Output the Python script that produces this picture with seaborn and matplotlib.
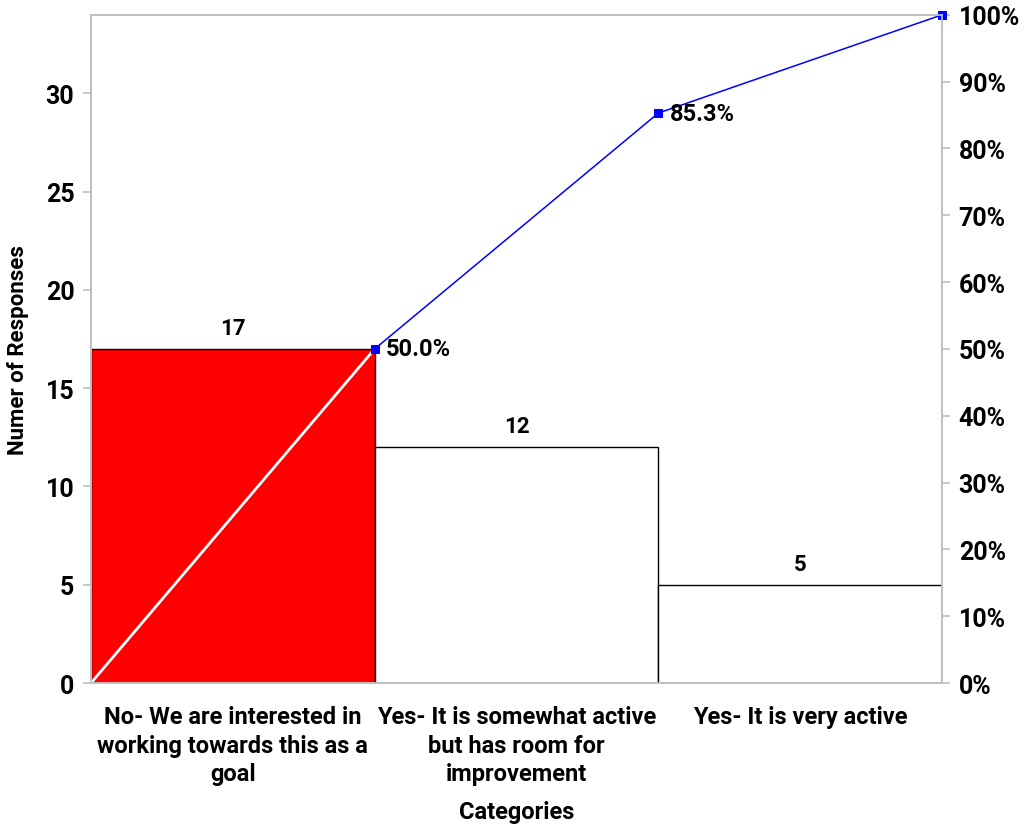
import numpy as np
import pandas as pd
import matplotlib
matplotlib.use("Agg")
import matplotlib.pyplot as plt
import seaborn as sns
from matplotlib.ticker import PercentFormatter

categories = ["No- We are interested in\nworking towards this as a\ngoal",
              "Yes- It is somewhat active\nbut has room for\nimprovement",
              "Yes- It is very active"]
counts = [17, 12, 5]
cum_pct = [50.0, 85.3, 100.0]
pct_labels = ["50.0%", "85.3%", ""]

sns.set_style("white")
plt.rcParams['font.family'] = ['Roboto', 'DejaVu Sans']
plt.rcParams['font.weight'] = 'bold'
plt.rcParams['text.color'] = 'black'
plt.rcParams['axes.labelcolor'] = 'black'
plt.rcParams['xtick.color'] = 'black'
plt.rcParams['ytick.color'] = 'black'

fig = plt.figure(figsize=(10.26, 8.29), dpi=100)
ax = fig.add_axes([0.0887, 0.1749, 0.8295, 0.806])

df = pd.DataFrame({"cat": categories, "n": counts})
sns.barplot(data=df, x="cat", y="n", hue="cat", legend=False,
            palette=["#ff0000", "white", "white"], saturation=1,
            width=1, edgecolor="black", linewidth=1, ax=ax)
ax.set_xlim(-0.5, 2.5)
ax.set_ylim(0, 34)
ax.set_yticks([0, 5, 10, 15, 20, 25, 30])

# bar value labels
for i, v in enumerate(counts):
    ax.text(i, v + 0.5, str(v), ha="center", va="bottom", fontsize=16, fontweight="bold")

# white diagonal inside the first bar
ax.plot([-0.5, 0.5], [0, counts[0]], color="white", lw=2, zorder=5)

ax2 = ax.twinx()
xs = np.arange(len(counts)) + 0.5
sns.lineplot(x=xs, y=cum_pct, color="#0000ff", lw=1.1, marker="s",
             markersize=6, markeredgecolor="#0000ff", ax=ax2, clip_on=False)
ax2.set_ylim(0, 100)
ax2.set_yticks(np.arange(0, 101, 10))
ax2.yaxis.set_major_formatter(PercentFormatter(decimals=0))
for x, p, lab in zip(xs, cum_pct, pct_labels):
    if lab:
        ax2.text(x + 0.04, p, lab, ha="left", va="center", fontsize=17, fontweight="bold")

gray = "#bfbfbf"
for a in (ax, ax2):
    for s in a.spines.values():
        s.set_color(gray)
        s.set_linewidth(1.2)
    a.tick_params(axis="y", length=6, width=1.2, color=gray, labelcolor="black",
                  labelsize=18, direction="out", pad=6)

ax.tick_params(axis="x", length=0, labelsize=17, pad=16)
for t in ax.get_xticklabels():
    t.set_linespacing(1.3)
ax.set_xlabel("Categories", fontsize=17, fontweight="bold", labelpad=11)
ax.set_ylabel("Numer of Responses", fontsize=16, fontweight="bold", labelpad=12)
for t in ax.get_yticklabels() + ax2.get_yticklabels() + ax.get_xticklabels():
    t.set_fontweight("bold")

fig.savefig("out.png", dpi=100)
